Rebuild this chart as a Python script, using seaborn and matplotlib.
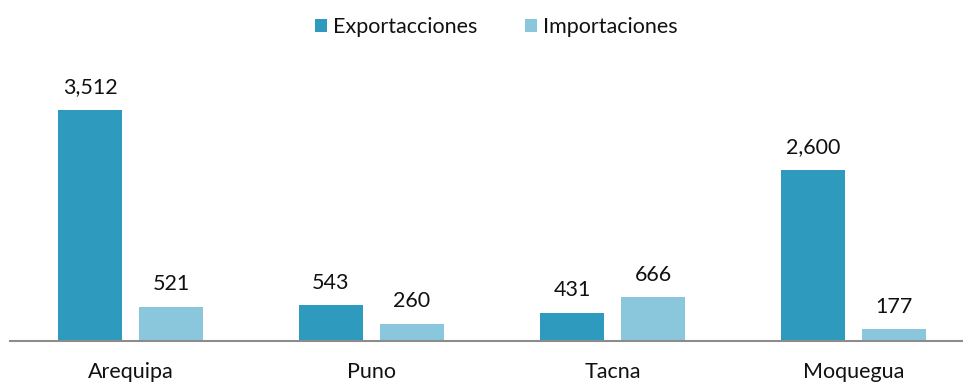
import numpy as np
import pandas as pd
import matplotlib
matplotlib.use('Agg')
import matplotlib.pyplot as plt
import matplotlib.patheffects as pe
import seaborn as sns

# Datos
regiones = ['Arequipa', 'Puno', 'Tacna', 'Moquegua']
exportaciones = [3512, 543, 431, 2600]
importaciones = [521, 260, 666, 177]
series = ['Exportacciones', 'Importaciones']
colores = ['#2e9abd', '#8ac7dc']

df = pd.DataFrame({
    'Region': regiones * 2,
    'Serie': [series[0]] * len(regiones) + [series[1]] * len(regiones),
    'Valor': exportaciones + importaciones,
})

sns.set_theme(style='white')
plt.rcParams['font.family'] = ['Lato', 'DejaVu Sans']

fig = plt.figure(figsize=(9.63, 3.85), dpi=100)
ax = fig.add_axes([10 / 963, 44 / 385, 964 / 963, 263 / 385])

sns.barplot(data=df, x='Region', y='Valor', hue='Serie', palette=colores,
            width=0.672, gap=0.21, ax=ax, legend=True, saturation=1)

# sombra suave debajo de las barras
for p in ax.patches:
    p.set_edgecolor('none')
    p.set_path_effects([pe.SimplePatchShadow(offset=(0, -3), shadow_rgbFace='#000000', alpha=0.18),
                        pe.Normal()])

for cont in ax.containers:
    ax.bar_label(cont, fmt='{:,.0f}', padding=9, fontsize=15.5, color='#111111')

ax.set_xlim(-0.5, 3.5)
ax.set_ylim(0, 4000)
ax.set_xlabel('')
ax.set_ylabel('')
ax.set_yticks([])
ax.tick_params(axis='x', length=0, pad=15, labelsize=15.5, labelcolor='#111111')
for s in ['top', 'right', 'left']:
    ax.spines[s].set_visible(False)
ax.spines['bottom'].set_color('#8c8c8c')
ax.spines['bottom'].set_linewidth(1.5)

leg = ax.legend(loc='center', bbox_to_anchor=(486 / 964, (385 - 27 - 44) / 263),
                ncol=2, frameon=False, fontsize=15.5, handlelength=0.6, handleheight=0.6,
                handletextpad=0.25, columnspacing=2.2, borderaxespad=0)
for t in leg.get_texts():
    t.set_color('#111111')
for h in leg.legend_handles:
    h.set_path_effects([])

fig.savefig('out.png', dpi=100)
